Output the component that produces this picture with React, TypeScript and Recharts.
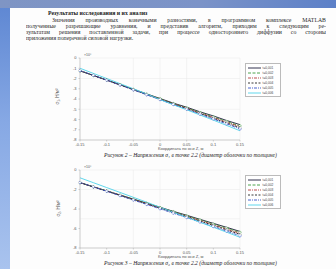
import { LineChart, Line, XAxis, YAxis, CartesianGrid, Legend } from "recharts";

const X_VALUES = [-0.15, -0.125, -0.1, -0.075, -0.05, -0.025, 0, 0.025, 0.05, 0.075, 0.1, 0.125, 0.15];
const X_TICKS = [-0.15, -0.1, -0.05, 0, 0.05, 0.1, 0.15];
const Y_TICKS = [0, -1, -2, -3, -4, -5, -6, -7, -8];
const SERIES_NAMES = ["t=0,001", "t=0,002", "t=0,003", "t=0,004", "t=0,005", "t=0,006"];

// Рисунок 2
const FIG2_A = [-1.25, -1.7, -2.15, -2.6, -3.05, -3.5, -3.95, -4.4, -4.8, -5.25, -5.65, -6.1, -6.5];
const FIG2_B = [-1.25, -1.7, -2.15, -2.6, -3.06, -3.52, -3.98, -4.44, -4.86, -5.32, -5.74, -6.2, -6.62];
const FIG2_C = [-1.25, -1.7, -2.16, -2.62, -3.08, -3.54, -4.0, -4.47, -4.9, -5.37, -5.8, -6.27, -6.7];
const FIG2_D = [-1.25, -1.71, -2.17, -2.63, -3.1, -3.57, -4.03, -4.5, -4.95, -5.42, -5.87, -6.35, -6.8];
const FIG2_E = [-1.22, -1.69, -2.16, -2.63, -3.11, -3.59, -4.06, -4.54, -5.0, -5.48, -5.95, -6.43, -6.92];
const FIG2_F = [-1.0, -1.5, -2.0, -2.5, -3.0, -3.5, -4.05, -4.56, -5.05, -5.56, -6.06, -6.58, -7.1];

// Рисунок 3
const FIG3_A = [-1.3, -1.72, -2.14, -2.56, -2.98, -3.4, -3.82, -4.24, -4.64, -5.06, -5.47, -5.88, -6.3];
const FIG3_B = [-1.3, -1.72, -2.15, -2.57, -3.0, -3.42, -3.85, -4.27, -4.7, -5.12, -5.55, -5.97, -6.4];
const FIG3_C = [-1.3, -1.73, -2.16, -2.59, -3.02, -3.45, -3.88, -4.31, -4.75, -5.18, -5.62, -6.06, -6.5];
const FIG3_D = [-1.3, -1.74, -2.17, -2.61, -3.04, -3.48, -3.91, -4.35, -4.8, -5.24, -5.69, -6.14, -6.6];
const FIG3_E = [-1.28, -1.73, -2.18, -2.63, -3.08, -3.53, -3.98, -4.43, -4.88, -5.34, -5.8, -6.27, -6.75];
const FIG3_F = [-0.8, -1.3, -1.8, -2.3, -2.8, -3.3, -3.82, -4.33, -4.84, -5.36, -5.87, -6.38, -6.9];

const PARAGRAPH = [
  "Значения производных конечными разностями, в программном комплексе MATLAB",
  "полученные разрешающие уравнения, и представив алгоритм, приходим к следующим ре-",
  "зультатам решения поставленной задачи, при процессе одностороннего диффузии со стороны",
  "приложения поперечной силовой нагрузки.",
];

const STYLES = [
  { color: "#1c1c3a", dash: undefined, dot: false },
  { color: "#3a9a3a", dash: "3 1.5", dot: true },
  { color: "#b23a3a", dash: "3 1 1 1", dot: false },
  { color: "#222222", dash: "2 1.5", dot: true },
  { color: "#3552c8", dash: "3 1 1 1", dot: true },
  { color: "#4fd2ea", dash: undefined, dot: false },
];

const buildRows = (series: number[][]) =>
  X_VALUES.map((x, i) => {
    const row: Record<string, number> = { x };
    series.forEach((s, k) => {
      row["s" + k] = s[i];
    });
    return row;
  });

const tickFont = { fontSize: 4, fill: "#555", fontFamily: "Liberation Sans" };

const SmallLegend = () => (
  <div style={{ background: "#fff", border: "0.5px solid #bbb", padding: "1px 2px", width: 30 }}>
    {SERIES_NAMES.map((n, k) => (
      <div key={n} style={{ display: "flex", alignItems: "center", height: 5, fontSize: 3.2, fontFamily: "Liberation Sans", color: "#444" }}>
        <svg width={13} height={4}>
          <line x1={0} y1={2} x2={13} y2={2} stroke={STYLES[k].color} strokeWidth={0.9} strokeDasharray={STYLES[k].dash} />
        </svg>
        <span style={{ marginLeft: 1.5 }}>{n}</span>
      </div>
    ))}
  </div>
);

const Figure = ({ series, top, height }: { series: number[][]; top: number; height: number }) => {
  const data = buildRows(series);
  return (
    <div style={{ position: "absolute", left: 60, top }}>
      <LineChart width={225} height={height} data={data} margin={{ top: 8, right: 9, bottom: 4, left: 0 }}>
        <CartesianGrid stroke="#e8e8e8" strokeWidth={0.5} />
        <XAxis
          dataKey="x"
          type="number"
          domain={[-0.15, 0.15]}
          ticks={X_TICKS}
          height={6}
          tickSize={1.5}
          tick={tickFont}
          stroke="#aaa"
          strokeWidth={0.5}
          tickFormatter={(v: number) => String(v)}
        />
        <YAxis
          type="number"
          domain={[-8, 0]}
          ticks={Y_TICKS}
          width={20}
          tickSize={1.5}
          tick={tickFont}
          stroke="#aaa"
          strokeWidth={0.5}
        />
        <Legend layout="vertical" align="right" verticalAlign="top" wrapperStyle={{ top: 13, right: 4, width: "auto" }} content={() => <SmallLegend />} />
        {series.map((_, k) => (
          <Line
            key={k}
            dataKey={"s" + k}
            name={SERIES_NAMES[k]}
            stroke={STYLES[k].color}
            strokeWidth={0.9}
            strokeDasharray={STYLES[k].dash}
            dot={STYLES[k].dot ? { r: 1.2, fill: "#fff", stroke: STYLES[k].color, strokeWidth: 0.5 } : false}
            isAnimationActive={false}
          />
        ))}
      </LineChart>
    </div>
  );
};

const small = { position: "absolute" as const, fontFamily: "Liberation Sans", color: "#555", whiteSpace: "nowrap" as const };

const Labels = ({ top, fig, sigma, xLabelTop, captionTop }: { top: number; fig: number; sigma: string; xLabelTop: number; captionTop: number }) => (
  <>
    <div style={{ ...small, left: 84, top: top - 5, fontSize: 3.5 }}>×10⁶</div>
    <div style={{ ...small, left: 50, top: top + 36, fontSize: 4.5, transform: "rotate(-90deg)" }}>{sigma}, Н/м²</div>
    <div style={{ ...small, left: 158, top: xLabelTop, fontSize: 4.2, lineHeight: "5px" }}>Координата по оси Z, м</div>
    <div style={{ position: "absolute", left: 104, top: captionTop, fontSize: 5.6, lineHeight: "7px", fontStyle: "italic", fontFamily: "Liberation Serif", color: "#222", whiteSpace: "nowrap" }}>
      Рисунок {fig} – Напряжения {sigma} в точке 2.2 (диаметр оболочки по толщине)
    </div>
  </>
);

export default function App() {
  return (
    <div
      style={{
        position: "fixed",
        left: 0,
        top: 0,
        width: 336,
        height: 269,
        overflow: "hidden",
        background: "linear-gradient(180deg, #5d86d2 0%, #86a8e4 45%, #a9c3ee 100%)",
      }}
    >
      <div style={{ position: "absolute", left: 0, top: 0, width: 336, height: 8, background: "linear-gradient(90deg, #7f95c4, #7b93c8 60%, #5c80c8)" }} />
      <div style={{ position: "absolute", left: 10, top: 8, width: 326, height: 261, background: "#fdfdfd" }}>
        <div style={{ position: "absolute", left: 38, top: 2, fontSize: 5.8, fontWeight: "bold", fontFamily: "Liberation Serif", color: "#222", whiteSpace: "nowrap" }}>
          Результаты исследования и их анализ
        </div>
        {PARAGRAPH.map((line, i) => (
          <div
            key={i}
            style={{
              position: "absolute",
              left: i === 0 ? 42 : 16,
              width: i === 0 ? 274 : 300,
              top: 8.5 + i * 6.1,
              fontSize: 5.8,
              lineHeight: "6px",
              fontFamily: "Liberation Serif",
              color: "#2a2a2a",
              textAlign: "justify",
              textAlignLast: i === PARAGRAPH.length - 1 ? "left" : "justify",
              whiteSpace: "nowrap",
              overflow: "hidden",
            }}
          >
            {line}
          </div>
        ))}
      </div>
      <Figure series={[FIG2_A, FIG2_B, FIG2_C, FIG2_D, FIG2_E, FIG2_F]} top={50} height={100} />
      <Labels top={58} fig={2} sigma="σ₁" xLabelTop={146} captionTop={152} />
      <Figure series={[FIG3_A, FIG3_B, FIG3_C, FIG3_D, FIG3_E, FIG3_F]} top={162} height={96} />
      <Labels top={170} fig={3} sigma="σ₂" xLabelTop={254} captionTop={260} />
    </div>
  );
}
